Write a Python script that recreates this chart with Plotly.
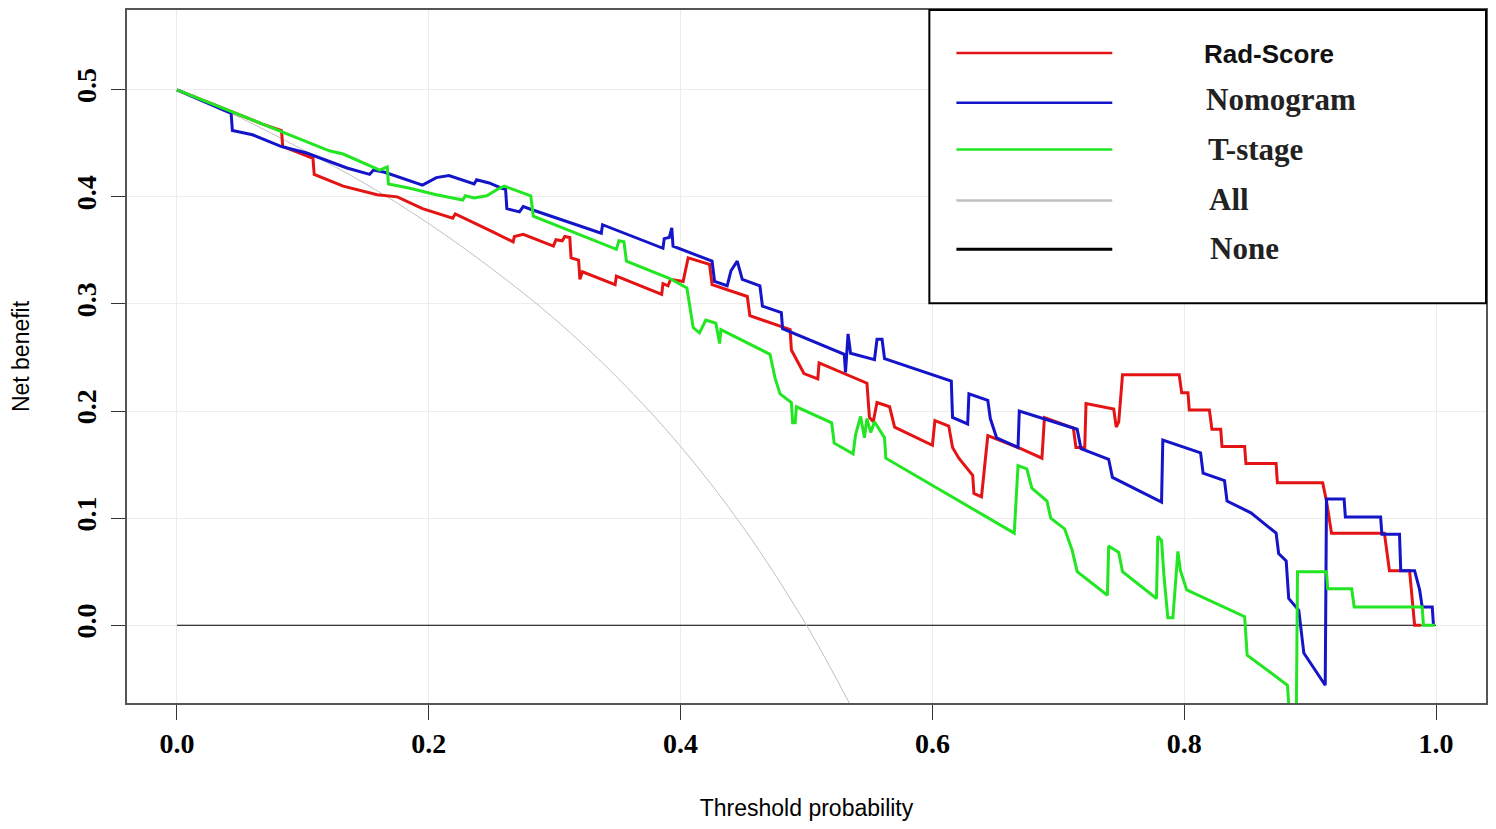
import plotly.graph_objects as go

# decision curve data
RAD_X = [0, 0.068, 0.083, 0.084, 0.108, 0.109, 0.132, 0.159, 0.175, 0.195, 0.219, 0.221, 0.248,
         0.267, 0.268, 0.275, 0.299, 0.301, 0.306, 0.308, 0.312, 0.313, 0.319, 0.320, 0.322,
         0.348, 0.349, 0.385, 0.386, 0.390, 0.392, 0.402, 0.406, 0.423, 0.425, 0.453, 0.455,
         0.487, 0.488, 0.498, 0.509, 0.510, 0.548, 0.550, 0.553, 0.556, 0.566, 0.570, 0.600,
         0.602, 0.613, 0.616, 0.621, 0.632, 0.633, 0.639, 0.644, 0.668, 0.687, 0.689, 0.712,
         0.714, 0.721, 0.722, 0.744, 0.746, 0.748, 0.751, 0.796, 0.798, 0.803, 0.804, 0.820,
         0.822, 0.829, 0.830, 0.848, 0.849, 0.873, 0.874, 0.910, 0.913, 0.917, 0.959, 0.963,
         0.979, 0.983, 0.988]
RAD_Y = [0.5, 0.468, 0.462, 0.447, 0.436, 0.421, 0.410, 0.402, 0.400, 0.389, 0.380, 0.384, 0.369,
         0.358, 0.363, 0.365, 0.354, 0.360, 0.359, 0.363, 0.362, 0.343, 0.341, 0.323, 0.330,
         0.318, 0.326, 0.309, 0.319, 0.317, 0.323, 0.321, 0.343, 0.337, 0.318, 0.307, 0.289,
         0.276, 0.257, 0.235, 0.230, 0.245, 0.226, 0.194, 0.190, 0.208, 0.204, 0.185, 0.168,
         0.191, 0.186, 0.166, 0.156, 0.140, 0.123, 0.120, 0.177, 0.166, 0.156, 0.194, 0.184,
         0.166, 0.166, 0.207, 0.202, 0.185, 0.190, 0.234, 0.234, 0.217, 0.217, 0.201, 0.201,
         0.183, 0.183, 0.167, 0.167, 0.151, 0.151, 0.133, 0.133, 0.116, 0.086, 0.086, 0.051,
         0.051, 0.0, 0.0]

NOMO_X = [0, 0.043, 0.044, 0.060, 0.083, 0.103, 0.135, 0.153, 0.156, 0.165, 0.195, 0.206, 0.216,
          0.236, 0.238, 0.248, 0.258, 0.261, 0.262, 0.272, 0.275, 0.282, 0.337, 0.338, 0.386,
          0.387, 0.391, 0.393, 0.394, 0.425, 0.427, 0.437, 0.440, 0.445, 0.449, 0.463, 0.465,
          0.480, 0.481, 0.530, 0.531, 0.533, 0.535, 0.554, 0.556, 0.560, 0.562, 0.615, 0.616,
          0.628, 0.629, 0.644, 0.646, 0.651, 0.668, 0.669, 0.715, 0.718, 0.740, 0.743, 0.782,
          0.783, 0.813, 0.815, 0.832, 0.834, 0.853, 0.873, 0.875, 0.881, 0.883, 0.891, 0.895,
          0.912, 0.913, 0.927, 0.928, 0.956, 0.957, 0.971, 0.972, 0.983, 0.987, 0.989, 0.997,
          0.998]
NOMO_Y = [0.5, 0.478, 0.462, 0.458, 0.447, 0.441, 0.427, 0.421, 0.425, 0.423, 0.411, 0.418, 0.420,
          0.412, 0.416, 0.413, 0.408, 0.407, 0.389, 0.386, 0.391, 0.388, 0.366, 0.374, 0.352,
          0.361, 0.362, 0.371, 0.354, 0.340, 0.321, 0.317, 0.331, 0.340, 0.323, 0.317, 0.298,
          0.292, 0.277, 0.253, 0.236, 0.272, 0.254, 0.248, 0.267, 0.267, 0.249, 0.228, 0.194,
          0.188, 0.216, 0.210, 0.193, 0.175, 0.166, 0.200, 0.183, 0.165, 0.155, 0.138, 0.115,
          0.173, 0.161, 0.142, 0.135, 0.116, 0.105, 0.086, 0.067, 0.060, 0.025, 0.014, -0.026,
          -0.056, 0.118, 0.118, 0.101, 0.101, 0.085, 0.085, 0.051, 0.051, 0.033, 0.017, 0.017,
          0.0]

TSTAGE_X = [0, 0.106, 0.121, 0.132, 0.161, 0.167, 0.168, 0.185, 0.206, 0.227, 0.229, 0.236,
            0.246, 0.256, 0.260, 0.281, 0.283, 0.349, 0.351, 0.355, 0.357, 0.391, 0.405, 0.410,
            0.415, 0.420, 0.428, 0.431, 0.432, 0.471, 0.475, 0.479, 0.488, 0.489, 0.491, 0.492,
            0.520, 0.522, 0.537, 0.539, 0.543, 0.546, 0.548, 0.551, 0.554, 0.562, 0.563, 0.665,
            0.668, 0.675, 0.679, 0.691, 0.694, 0.705, 0.711, 0.715, 0.739, 0.740, 0.748, 0.751,
            0.778, 0.779, 0.782, 0.784, 0.787, 0.791, 0.795, 0.797, 0.802, 0.848, 0.850, 0.882,
            0.884, 0.889, 0.890, 0.913, 0.914, 0.933, 0.935, 0.989, 0.990, 0.999]
TSTAGE_Y = [0.5, 0.450, 0.443, 0.440, 0.425, 0.428, 0.412, 0.408, 0.402, 0.397, 0.401, 0.399,
            0.401, 0.408, 0.410, 0.401, 0.382, 0.351, 0.359, 0.358, 0.340, 0.324, 0.315, 0.278,
            0.273, 0.285, 0.282, 0.263, 0.276, 0.253, 0.231, 0.216, 0.208, 0.189, 0.189, 0.204,
            0.189, 0.170, 0.160, 0.178, 0.195, 0.175, 0.193, 0.180, 0.190, 0.175, 0.156, 0.086,
            0.149, 0.146, 0.128, 0.116, 0.100, 0.090, 0.070, 0.050, 0.028, 0.074, 0.068, 0.050,
            0.025, 0.083, 0.079, 0.045, 0.007, 0.007, 0.069, 0.051, 0.033, 0.008, -0.028, -0.056,
            -0.09, -0.09, 0.050, 0.050, 0.034, 0.034, 0.017, 0.017, 0.0, 0.0]

ALL_X = [0, 0.05, 0.1, 0.15, 0.2, 0.25, 0.3, 0.35, 0.4, 0.45, 0.5, 0.535]
ALL_Y = [0.5, 0.474, 0.444, 0.412, 0.375, 0.333, 0.286, 0.231, 0.167, 0.091, 0.0, -0.075]

NONE_X = [0, 1]
NONE_Y = [0, 0]

LEGEND_NAMES = ["Rad-Score", "Nomogram", "T-stage", "All", "None"]
COLORS = ["#e41414", "#1414c8", "#22e622", "#c0c0c0", "#000000"]

fig = go.Figure()
fig.add_trace(go.Scatter(x=NONE_X, y=NONE_Y, mode="lines", line=dict(color=COLORS[4], width=1)))
fig.add_trace(go.Scatter(x=ALL_X, y=ALL_Y, mode="lines", line=dict(color=COLORS[3], width=1, shape="spline")))
fig.add_trace(go.Scatter(x=RAD_X, y=RAD_Y, mode="lines", line=dict(color=COLORS[0], width=3)))
fig.add_trace(go.Scatter(x=NOMO_X, y=NOMO_Y, mode="lines", line=dict(color=COLORS[1], width=3)))
fig.add_trace(go.Scatter(x=TSTAGE_X, y=TSTAGE_Y, mode="lines", line=dict(color=COLORS[2], width=3)))

# hand-drawn legend box, top right
L_Y = [0.9381, 0.8662, 0.7986, 0.7252, 0.6547]
T_Y = [0.9365, 0.8703, 0.7984, 0.7264, 0.6555]
T_X = [0.7913, 0.7928, 0.7943, 0.795, 0.7957]
shapes = [dict(type="rect", xref="paper", yref="paper", x0=0.5904, x1=1.0, y0=0.577, y1=1.0,
               line=dict(color="black", width=2), fillcolor="white", layer="above")]
annots = []
for i, nm in enumerate(LEGEND_NAMES):
    shapes.append(dict(type="line", xref="paper", yref="paper", x0=0.6103, x1=0.725,
                       y0=L_Y[i], y1=L_Y[i], line=dict(color=COLORS[i], width=2.5 if i < 4 else 3)))
    if i == 0:
        f = dict(family="Liberation Sans", size=26, color="#111", weight="bold")
    else:
        f = dict(family="Liberation Serif", size=31, color="#222", weight="bold")
    annots.append(dict(text=nm, xref="paper", yref="paper", x=T_X[i], y=T_Y[i],
                       xanchor="left", yanchor="middle", showarrow=False, font=f))

tickf = dict(family="Liberation Serif", size=28, color="black", weight="bold")
# page body has an 8px margin, so the figure is shrunk and margins shifted by 8px
fig.update_layout(
    width=1480, height=813, margin=dict(l=119, r=1, t=0, b=118),
    plot_bgcolor="white", paper_bgcolor="white", showlegend=False,
    shapes=shapes, annotations=annots,
    xaxis=dict(range=[-0.0397, 1.0397], tickvals=[0, 0.2, 0.4, 0.6, 0.8, 1.0],
               ticktext=["0.0", "0.2", "0.4", "0.6", "0.8", "1.0"], tickfont=tickf,
               ticks="outside", ticklen=15, tickcolor="#333", showline=True, linecolor="#555",
               linewidth=1.5, mirror=True, showgrid=True, gridcolor="#ececec", zeroline=False,
               title=dict(text="Threshold probability", standoff=43,
                          font=dict(family="Liberation Sans", size=23, color="black"))),
    yaxis=dict(range=[-0.0726, 0.5745], tickvals=[0, 0.1, 0.2, 0.3, 0.4, 0.5],
               ticktext=["0.0", "0.1", "0.2", "0.3", "0.4", "0.5"], tickfont=tickf, tickangle=-90,
               ticks="outside", ticklen=14, tickcolor="#333", showline=True, linecolor="#555",
               linewidth=1.5, mirror=True, showgrid=True, gridcolor="#ececec", zeroline=False,
               ticklabelstandoff=4,
               title=dict(text="Net benefit", standoff=38,
                          font=dict(family="Liberation Sans", size=23, color="black"))),
)

fig.write_html("out.html")
